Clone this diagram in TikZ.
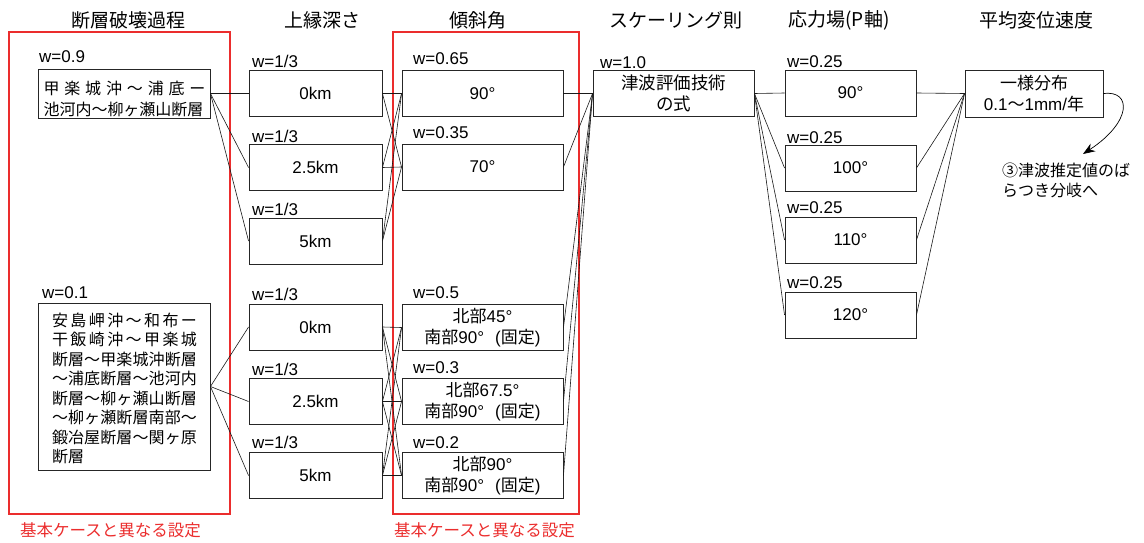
\documentclass[tikz,border=0pt]{standalone}
\usepackage{fontspec}
\setmainfont{Liberation Sans}
\newfontfamily\cj{Noto Sans CJK JP}
\usetikzlibrary{arrows.meta}
\definecolor{redline}{RGB}{235,45,45}
\makeatletter
\def\spreadline#1#2{\makebox[#1][s]{\spr@ad#2\relax}}
\def\spr@ad#1#2{#1\ifx\relax#2\else\hfil\expandafter\spr@ad\expandafter#2\fi}
\makeatother
\newcommand{\fixgap}{\hspace{11pt}}
\begin{document}
\begin{tikzpicture}[x=1pt,y=-1pt,
  bx/.style={draw=black!85, line width=0.9pt, inner sep=0pt, minimum height=46pt, align=center, font=\fontsize{17}{21}\selectfont},
  dep/.style={bx, minimum width=133pt},
  dip/.style={bx, minimum width=161pt},
  str/.style={bx, minimum width=131pt},
  wl/.style={anchor=base west, inner sep=0pt, font=\fontsize{17}{20}\selectfont},
  hd/.style={inner sep=0pt, font=\fontsize{19}{22}\selectfont\cj},
  redbox/.style={draw=redline, line width=1.2pt},
  redlab/.style={inner sep=0pt, text=redline, font=\fontsize{16.5}{20}\selectfont\cj},
  cn/.style={line width=0.6pt, draw=black!90}]
\useasboundingbox (0,0) rectangle (1144,543);
% headers
\node[hd] (h1) at (128,20) {断層破壊過程};
\node[hd] (h2) at (322,20) {上縁深さ};
\node[hd] (h3) at (478,20) {傾斜角};
\node[hd] (h4) at (676,20) {スケーリング則};
\node[hd] (h5) at (839,20) {応力場(P軸)};
\node[hd] (h6) at (1036,20) {平均変位速度};
% red frames
\draw[redbox] (9,32) rectangle (230,514);
\draw[redbox] (393,32) rectangle (579,514);
\node[redlab] (r1) at (110.5,530) {基本ケースと異なる設定};
\node[redlab] (r2) at (484.5,530) {基本ケースと異なる設定};
% fault boxes
\node[bx, minimum width=172pt, minimum height=49pt] (f1) at (124,93.5) {};
\node[inner sep=0pt, align=left, font=\fontsize{16}{21}\selectfont\cj] (f1t) at (124.5,99) {\spreadline{162pt}{甲楽城沖～浦底ー}\\池河内～柳ヶ瀬山断層};
\node[bx, minimum width=172pt, minimum height=167pt] (f2) at (124,386.5) {};
\node[inner sep=0pt, align=left, font=\fontsize{16}{19.5}\selectfont\cj] (f2t) at (124.5,388.5) {%
\spreadline{145pt}{安島岬沖～和布ー}\\
\spreadline{145pt}{干飯崎沖～甲楽城}\\
\spreadline{145pt}{断層～甲楽城沖断層}\\
\spreadline{145pt}{～浦底断層～池河内}\\
\spreadline{145pt}{断層～柳ヶ瀬山断層}\\
\spreadline{145pt}{～柳ヶ瀬断層南部～}\\
\spreadline{145pt}{鍛冶屋断層～関ヶ原}\\
断層};
\node[wl] (wf1) at (39,63) {w=0.9};
\node[wl] (wf2) at (42,298) {w=0.1};
% depth boxes
\node[dep] (d1) at (315.5,93.5) {0km};
\node[dep] (d2) at (315.5,167.5) {2.5km};
\node[dep] (d3) at (315.5,241) {5km};
\node[dep] (d4) at (315.5,327) {0km};
\node[dep] (d5) at (315.5,401.5) {2.5km};
\node[dep] (d6) at (315.5,475.5) {5km};
\node[wl] (wd1) at (252,67) {w=1/3};
\node[wl] (wd2) at (252,142) {w=1/3};
\node[wl] (wd3) at (252,215) {w=1/3};
\node[wl] (wd4) at (252,300) {w=1/3};
\node[wl] (wd5) at (252,375) {w=1/3};
\node[wl] (wd6) at (252,448) {w=1/3};
% dip boxes
\node[dip] (p1) at (482.5,93.5) {90°};
\node[dip] (p2) at (482.5,167) {70°};
\node[dip] (p3) at (482.5,327.5) {{\cj 北部}45°\\{\cj 南部}90°\fixgap({\cj 固定})};
\node[dip] (p4) at (482.5,401.5) {{\cj 北部}67.5°\\{\cj 南部}90°\fixgap({\cj 固定})};
\node[dip] (p5) at (482.5,475.5) {{\cj 北部}90°\\{\cj 南部}90°\fixgap({\cj 固定})};
\node[wl] (wp1) at (413,65) {w=0.65};
\node[wl] (wp2) at (413,139) {w=0.35};
\node[wl] (wp3) at (413,298) {w=0.5};
\node[wl] (wp4) at (413,373) {w=0.3};
\node[wl] (wp5) at (413,448) {w=0.2};
% scaling
\node[dip, font=\fontsize{17.5}{21}\selectfont\cj] (s) at (673.5,93.5) {津波評価技術\\の式};
\node[wl] (ws) at (600,69) {w=1.0};
% stress
\node[str] (q1) at (850.5,93) {90°};
\node[str] (q2) at (850.5,168) {100°};
\node[str] (q3) at (850.5,240) {110°};
\node[str] (q4) at (850.5,315) {120°};
\node[wl] (wq1) at (787,67) {w=0.25};
\node[wl] (wq2) at (787,143) {w=0.25};
\node[wl] (wq3) at (787,213) {w=0.25};
\node[wl] (wq4) at (787,288) {w=0.25};
% average displacement rate
\node[bx, minimum width=138pt, minimum height=47pt] (a) at (1034,93.5) {{\cj 一様分布}\\0.1{\cj ～}1mm/{\cj 年}};
% annotation
\node[inner sep=0pt, anchor=north west, align=left, font=\fontsize{16}{20}\selectfont\cj] (ann) at (1002,163) {③津波推定値のば\\らつき分岐へ};
\coordinate (arrtip) at (1083,154);
\draw[line width=0.7pt, -{Stealth[length=12pt,width=9pt]}] (a.east) .. controls (1132,90) and (1132,122) .. (arrtip);
% connectors
\foreach \d in {d1,d2,d3} \draw[cn] (f1.east) -- (\d.west);
\foreach \d in {d4,d5,d6} \draw[cn] (f2.east) -- (\d.west);
\foreach \d in {d1,d2,d3} \foreach \p in {p1,p2} \draw[cn] (\d.east) -- (\p.west);
\foreach \d in {d4,d5,d6} \foreach \p in {p3,p4,p5} \draw[cn] (\d.east) -- (\p.west);
\foreach \p in {p1,p2,p3,p4,p5} \draw[cn] (\p.east) -- (s.west);
\foreach \q in {q1,q2,q3,q4} \draw[cn] (s.east) -- (\q.west);
\foreach \q in {q1,q2,q3,q4} \draw[cn] (\q.east) -- (a.west);
\end{tikzpicture}
\end{document}
